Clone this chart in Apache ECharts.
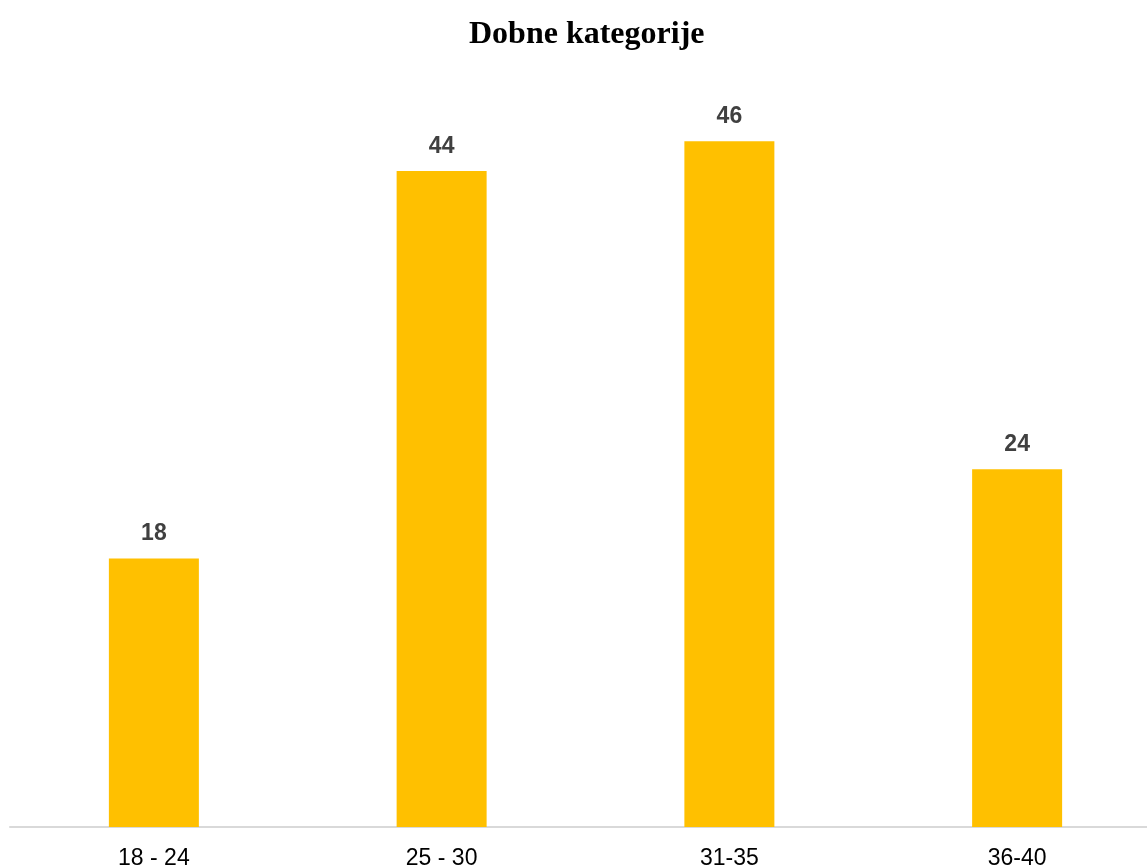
<!DOCTYPE html>
<html>
<head>
<meta charset="utf-8">
<script src="https://cdn.jsdelivr.net/npm/echarts@6/dist/echarts.min.js"></script>
<style>
  html, body { margin: 0; padding: 0; background: #fff; }
  #chart { width: 1147px; height: 866px; }
</style>
</head>
<body>
<div id="chart"></div>
<script>
const categories = ['18 - 24', '25 - 30', '31-35', '36-40'];
const counts = [18, 44, 46, 24];

const chart = echarts.init(document.getElementById('chart'));
chart.setOption({
  animation: false,
  title: {
    text: 'Dobne kategorije',
    left: 464,
    top: 14,
    textStyle: {
      fontFamily: 'Liberation Serif',
      fontWeight: 'bold',
      fontSize: 32,
      color: '#000'
    }
  },
  grid: {
    left: 10,
    right: -14,
    top: 81.5,
    bottom: 39,
    outerBoundsMode: 'none'
  },
  xAxis: {
    type: 'category',
    data: categories,
    axisLine: { lineStyle: { color: '#d9d9d9', width: 2 } },
    axisTick: { show: false },
    axisLabel: {
      margin: 20,
      fontFamily: 'Liberation Sans',
      fontSize: 23,
      color: '#000'
    }
  },
  yAxis: {
    type: 'value',
    min: 0,
    max: 50,
    show: false,
    splitLine: { show: false }
  },
  series: [{
    type: 'bar',
    data: counts,
    barWidth: 90,
    itemStyle: { color: '#ffc000' },
    label: {
      show: true,
      position: 'top',
      distance: 13,
      fontFamily: 'Liberation Sans',
      fontWeight: 'bold',
      fontSize: 23,
      color: '#404040'
    }
  }]
});
</script>
</body>
</html>
